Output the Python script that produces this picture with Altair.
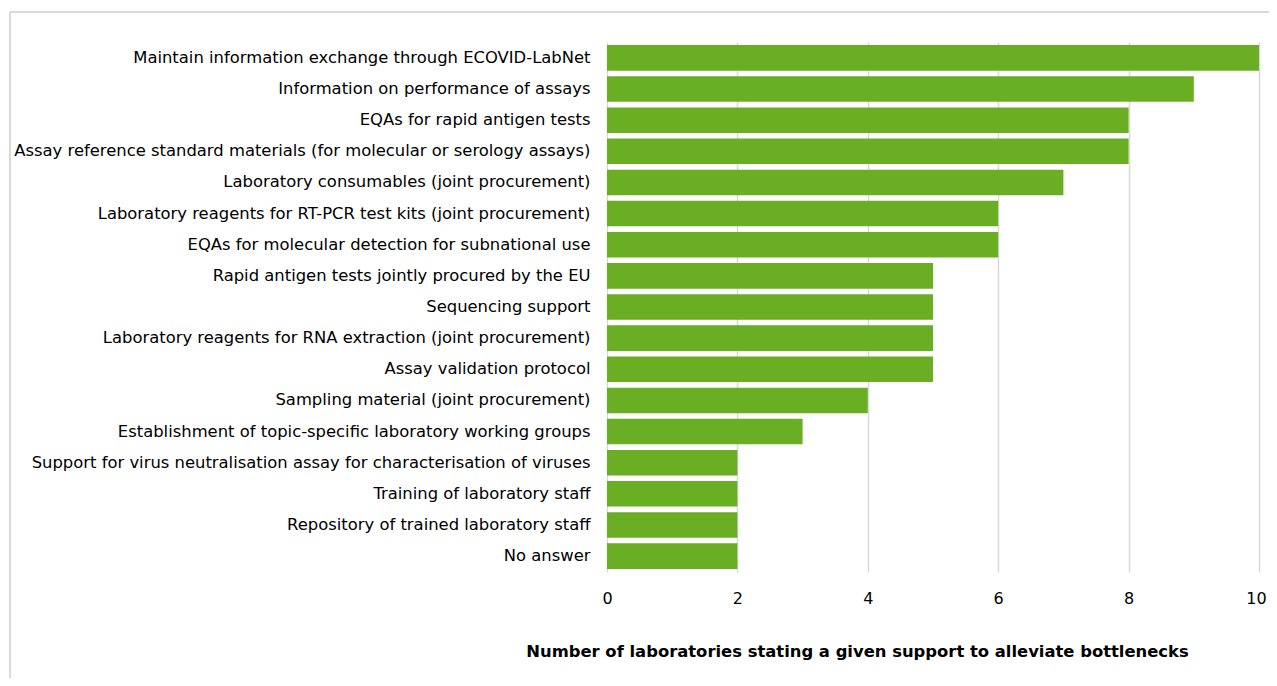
import altair as alt
import pandas as pd

categories = [
    "Maintain information exchange through ECOVID-LabNet",
    "Information on performance of assays",
    "EQAs for rapid antigen tests",
    "Assay reference standard materials (for molecular or serology assays)",
    "Laboratory consumables (joint procurement)",
    "Laboratory reagents for RT-PCR test kits (joint procurement)",
    "EQAs for molecular detection for subnational use",
    "Rapid antigen tests jointly procured by the EU",
    "Sequencing support",
    "Laboratory reagents for RNA extraction (joint procurement)",
    "Assay validation protocol",
    "Sampling material (joint procurement)",
    "Establishment of topic-specific laboratory working groups",
    "Support for virus neutralisation assay for characterisation of viruses",
    "Training of laboratory staff",
    "Repository of trained laboratory staff",
    "No answer ",
]
values = [10, 9, 8, 8, 7, 6, 6, 5, 5, 5, 5, 4, 3, 2, 2, 2, 2]
x_ticks = [0, 2, 4, 6, 8, 10]

df = pd.DataFrame({"category": categories, "value": values})

FONT = "DejaVu Sans"
GREEN = "#6aae23"
FRAME = "#d9d9d9"

bars = alt.Chart(df).mark_bar(color=GREEN).encode(
    x=alt.X(
        "value:Q",
        scale=alt.Scale(domain=[0, 10], nice=False),
        axis=alt.Axis(
            values=x_ticks,
            title="Number of laboratories stating a given support to alleviate bottlenecks",
            titleFont=FONT,
            titleFontSize=16.4,
            titleFontWeight="bold",
            titleColor="#000000",
            titleX=250,
            titleY=79,
            titleAlign="center",
            titleBaseline="middle",
            labelFont=FONT,
            labelFontSize=16,
            labelColor="#000000",
            labelPadding=18,
            labelFlush=False,
            labelOverlap=False,
            labelOffset=alt.ExprRef("datum.value == 10 ? -3 : 0"),
            ticks=False,
            domain=False,
            grid=True,
            gridColor="#d9d9d9",
            gridWidth=1.5,
        ),
    ),
    y=alt.Y(
        "category:N",
        sort=categories,
        scale=alt.Scale(paddingInner=0.18, paddingOuter=0.1),
        axis=alt.Axis(
            title=None,
            labelFont=FONT,
            labelFontSize=16.4,
            labelColor="#000000",
            labelPadding=17,
            labelLimit=0,
            ticks=False,
            domain=False,
            grid=False,
        ),
    ),
)

frame_data = alt.Data(values=[{"k": 1}])
frame_v = alt.Chart(frame_data).mark_rule(color=FRAME, strokeWidth=2).encode(
    x=alt.value(-597), y=alt.value(-30), y2=alt.value(700)
)
frame_h = alt.Chart(frame_data).mark_rule(color=FRAME, strokeWidth=2).encode(
    x=alt.value(-597), x2=alt.value(700), y=alt.value(-30)
)

chart = alt.layer(frame_v, frame_h, bars).properties(
    width=652,
    height=530,
    autosize=alt.AutoSizeParams(type="none"),
    padding={"left": 599, "top": 34, "right": 10, "bottom": 106},
    background="white",
).configure_view(stroke=None)

chart.save("out.html", embed_options={"renderer": "svg", "actions": False})
